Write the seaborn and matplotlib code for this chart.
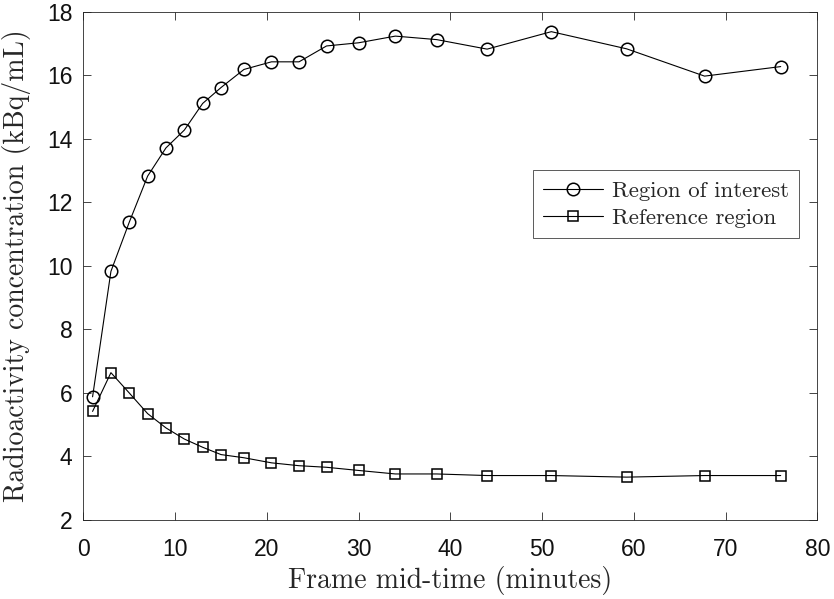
import numpy as np
import pandas as pd
import matplotlib
matplotlib.use("Agg")
import matplotlib.pyplot as plt
import seaborn as sns

# frame mid-times (minutes)
frame_time = [1, 3, 5, 7, 9, 11, 13, 15, 17.5, 20.5, 23.5, 26.5, 30,
              34, 38.5, 44, 51, 59.2, 67.7, 76]
# radioactivity concentration (kBq/mL)
roi_conc = [5.88, 9.83, 11.38, 12.83, 13.72, 14.28, 15.12, 15.62, 16.19,
            16.43, 16.43, 16.93, 17.03, 17.24, 17.13, 16.83, 17.38,
            16.84, 15.98, 16.28]
ref_conc = [5.42, 6.64, 6.00, 5.35, 4.90, 4.55, 4.29, 4.06, 3.96, 3.80,
            3.71, 3.66, 3.56, 3.45, 3.45, 3.40, 3.40, 3.35, 3.40, 3.40]

df = pd.DataFrame({"time": frame_time, "roi": roi_conc, "ref": ref_conc})

sns.set_style("ticks")
plt.rcParams["font.family"] = ["Liberation Sans", "DejaVu Sans"]

fig = plt.figure(figsize=(8.34, 5.99), dpi=100)
ax = fig.add_axes([0.1, 0.1319, 0.8801, 0.8481])

axcol = "#262626"
common = dict(color="k", linewidth=0.8, markerfacecolor="none",
              markeredgecolor="k", markeredgewidth=1.1)
sns.lineplot(data=df, x="time", y="roi", marker="o", markersize=9,
             label="Region of interest", ax=ax, **common)
sns.lineplot(data=df, x="time", y="ref", marker="s", markersize=7.5,
             label="Reference region", ax=ax, **common)

ax.set_xlim(0, 80)
ax.set_ylim(2, 18)
ax.set_xticks(np.arange(0, 81, 10))
ax.set_yticks(np.arange(2, 19, 2))
ax.tick_params(direction="in", top=True, right=True, length=6, width=0.6,
               labelsize=16.5, colors=axcol, labelcolor="#111111")
ax.tick_params(axis="x", pad=13)
ax.tick_params(axis="y", pad=8)
for s in ax.spines.values():
    s.set_visible(True)
    s.set_linewidth(0.6)
    s.set_color(axcol)

ax.set_xlabel("Frame mid-time (minutes)", fontfamily="cmr10", fontsize=20)
ax.set_ylabel("Radioactivity concentration (kBq/mL)", fontfamily="cmr10", fontsize=20)
ax.xaxis.set_label_coords(0.5, -0.09)
ax.yaxis.set_label_coords(-0.072, 0.5)

leg = ax.legend(loc="center right", bbox_to_anchor=(0.975, 0.6215),
                prop={"family": "cmr10", "size": 16.4},
                frameon=True, fancybox=False, framealpha=1, edgecolor="#404040",
                handlelength=2.6, borderpad=0.45, labelspacing=0.32,
                handletextpad=0.4, borderaxespad=0)
leg.get_frame().set_linewidth(0.6)

fig.savefig("out.png", dpi=100)
